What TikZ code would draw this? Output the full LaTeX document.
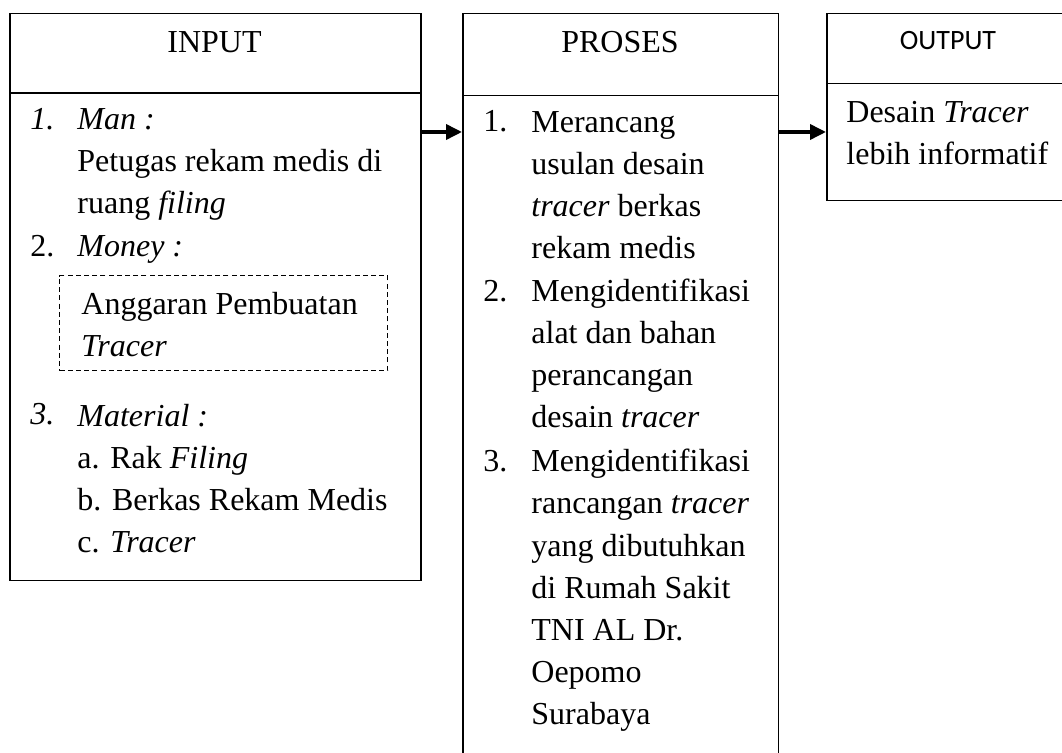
\documentclass[tikz,border=0pt]{standalone}
\usepackage{fontspec}
\setmainfont{Liberation Serif}
\newfontfamily\calfont{Carlito}
\usetikzlibrary{arrows.meta}

\begin{document}
\begin{tikzpicture}[x=0.5pt,y=-0.5pt,
    box/.style={draw,line width=0.75pt,rectangle,anchor=north west,inner sep=0pt},
    dashbox/.style={box,line width=0.6pt,dash pattern=on 2.5pt off 1.6pt},
    txt/.style={anchor=base west,inner sep=0pt,align=left,font=\fontsize{16}{21.1}\selectfont},
    head/.style={anchor=base,inner sep=0pt,font=\fontsize{16}{21.1}\selectfont},
    flow/.style={line width=1.8pt,-{Triangle[length=8pt,width=7.5pt]}}]
\useasboundingbox (0,0) rectangle (1062,753);
\clip (0,0) rectangle (1062,753);
% input (multi-line texts sit on their last line)
\node[box,minimum width=205.5pt,minimum height=39.75pt] (inhead) at (9,13) {};
\node[box,minimum width=205.5pt,minimum height=243.75pt] (inbody) at (9,92.5) {};
\node[head] (inlabel) at (214.5,53) {INPUT};
\node[txt] (in1n) at (30,130) {\textit{1.}};
\node[txt] (in1) at (77,214) {\textit{Man :}\\Petugas rekam medis di\\ruang \textit{filing}};
\node[txt] (in2n) at (30,257) {2.};
\node[txt] (in2) at (77,257) {\textit{Money :}};
\node[dashbox,minimum width=164pt,minimum height=47.5pt] (budgetbox) at (59,275) {};
\node[txt] (budget) at (81,357) {Anggaran Pembuatan\\\textit{Tracer}};
\node[txt] (in3n) at (30,425) {\textit{3.}};
\node[txt] (in3) at (77,553) {\textit{Material :}\\a. Rak \textit{Filing}\\b. Berkas Rekam Medis\\c. \textit{Tracer}};
% proses
\node[box,minimum width=157.75pt,minimum height=41pt] (prohead) at (462,13) {};
\node[box,minimum width=157.75pt,minimum height=340pt] (probody) at (462,95) {};
\node[head] (prolabel) at (620,53) {PROSES};
\node[txt] (pro1n) at (483,132) {1.};
\node[txt] (pro1) at (531,259) {Merancang\\usulan desain\\\textit{tracer} berkas\\rekam medis};
\node[txt] (pro2n) at (483,302) {2.};
\node[txt] (pro2) at (531,428) {Mengidentifikasi\\alat dan bahan\\perancangan\\desain \textit{tracer}};
\node[txt] (pro3n) at (483,472) {3.};
\node[txt] (pro3) at (531,725) {Mengidentifikasi\\rancangan \textit{tracer}\\yang dibutuhkan\\di Rumah Sakit\\TNI AL Dr.\\Oepomo\\Surabaya};
% output
\node[box,minimum width=122pt,minimum height=35pt] (outhead) at (826,13) {};
\node[box,minimum width=122pt,minimum height=58.5pt] (outbody) at (826,83) {};
\node[head,font=\calfont\fontsize{14}{17}\selectfont] (outlabel) at (948,50) {OUTPUT};
\node[txt] (out1) at (846,165) {Desain \textit{Tracer}\\lebih informatif};
% arrows
\draw[flow] (inbody.east |- pro1n.base) -- (probody.west |- pro1n.base);
\draw[flow] (probody.east |- pro1n.base) -- (outbody.west |- pro1n.base);
\end{tikzpicture}
\end{document}
